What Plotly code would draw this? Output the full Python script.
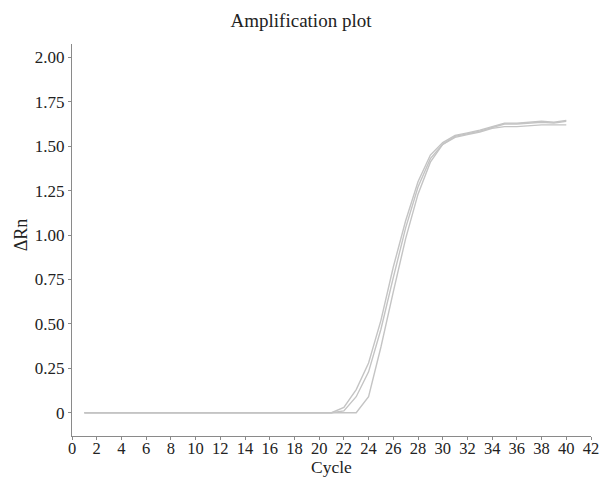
import plotly.graph_objects as go

cycles = list(range(1, 41))
zeros21 = [0.0] * 21
curve_a = zeros21[:] + [0.03, 0.13, 0.28, 0.52, 0.82, 1.08, 1.30, 1.45, 1.52, 1.56,
                        1.575, 1.59, 1.61, 1.63, 1.63, 1.635, 1.64, 1.635, 1.645]
curve_b = zeros21[:] + [0.01, 0.09, 0.23, 0.47, 0.76, 1.04, 1.27, 1.43, 1.51, 1.555,
                        1.57, 1.585, 1.605, 1.625, 1.625, 1.63, 1.635, 1.63, 1.64]
curve_c = zeros21[:] + [0.0, 0.0, 0.09, 0.37, 0.68, 0.98, 1.23, 1.41, 1.51, 1.55,
                        1.565, 1.58, 1.60, 1.61, 1.61, 1.615, 1.62, 1.62, 1.62]

y_tickvals = [0, 0.25, 0.5, 0.75, 1.0, 1.25, 1.5, 1.75, 2.0]
y_ticktext = ["0", "0.25", "0.50", "0.75", "1.00", "1.25", "1.50", "1.75", "2.00"]
x_tickvals = list(range(0, 43, 2))

fig = go.Figure()
for ys in (curve_a, curve_b, curve_c):
    fig.add_trace(go.Scatter(x=cycles, y=ys, mode="lines",
                             line=dict(color="#c4c4c4", width=1.4),
                             showlegend=False, hoverinfo="skip"))

font = "Liberation Serif, Times New Roman, serif"
W, H = 602, 477
L, R, T, B = 71.7, 11, 44, 41
fig.update_layout(
    width=W, height=H,
    margin=dict(l=L, r=R, t=T, b=B, autoexpand=False),
    paper_bgcolor="white", plot_bgcolor="white",
    font=dict(family=font, size=17, color="#222"),
    title=dict(text="Amplification plot", x=0.5, xanchor="center",
               y=1 - 20 / H, yanchor="middle",
               font=dict(family=font, size=19, color="#222")),
)
fig.update_xaxes(range=[0, 42], tickvals=x_tickvals, showgrid=False, zeroline=False,
                 showline=True, linecolor="#8a8a8a", linewidth=1,
                 ticks="outside", ticklen=3, tickcolor="#8a8a8a",
                 ticklabelstandoff=-6,
                 tickfont=dict(size=16.5), automargin=False)
fig.update_yaxes(range=[-0.131, 2.075], tickvals=y_tickvals, ticktext=y_ticktext,
                 showgrid=False, zeroline=False,
                 showline=True, linecolor="#8a8a8a", linewidth=1,
                 ticks="outside", ticklen=3, tickcolor="#8a8a8a",
                 tickfont=dict(size=17), automargin=False)

fig.add_annotation(text="Cycle", xref="paper", yref="paper",
                   x=0.5, y=-(467 - (H - B)) / (H - T - B),
                   xanchor="center", yanchor="middle", showarrow=False,
                   font=dict(family=font, size=17.5, color="#222"))
fig.add_annotation(text="ΔRn", xref="paper", yref="paper",
                   x=-(L - 21) / (W - L - R), y=(H - B - 235) / (H - T - B),
                   xanchor="center", yanchor="middle", showarrow=False, textangle=-90,
                   font=dict(family=font, size=18, color="#222"))

fig.write_html("out.html")
